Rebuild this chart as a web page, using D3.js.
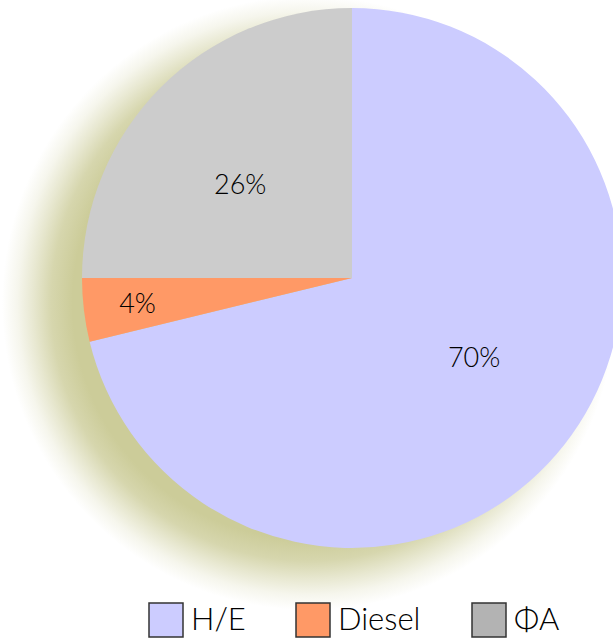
<!DOCTYPE html>
<html>
<head>
<meta charset="utf-8">
<script src="https://cdn.jsdelivr.net/npm/d3@7"></script>
<style>
  body { margin: 0; background: #fff; }
  svg { display: block; }
</style>
</head>
<body>
<svg width="613" height="641"></svg>
<script>
let width = 613,
    height = 641;
let svg = d3.select("svg");

// slice shares as drawn, and their printed labels
const categories = ["H/E", "Diesel", "ΦA"];
const shares = [71.2, 3.8, 25.0];
const labels = ["70%", "4%", "26%"];
const pieColors = ["#ccccff", "#ff9966", "#cccccc"];
const legendColors = ["#ccccff", "#ff9966", "#b3b3b3"];

let cx = 352, cy = 278, radius = 270;
let font = "Lato, 'DejaVu Sans', sans-serif";

// soft olive shadow behind the pie, shifted down-left
let defs = svg.append("defs");
let grad = defs.append("radialGradient").attr("id", "shade");
[[0, 1], [0.77, 1], [0.84, 0.8], [0.9, 0.45], [0.95, 0.18], [1, 0]].forEach(s => {
    grad.append("stop")
        .attr("offset", s[0])
        .attr("stop-color", "#cccc99")
        .attr("stop-opacity", s[1]);
});

svg.append("circle")
    .attr("cx", cx - 43)
    .attr("cy", cy + 25)
    .attr("r", radius + 37)
    .attr("fill", "url(#shade)");

let pie = d3.pie().sort(null).value(d => d);
let arcs = pie(shares);
let arc = d3.arc().innerRadius(0).outerRadius(radius);

let g = svg.append("g").attr("transform", "translate(" + cx + "," + cy + ")");
g.selectAll("path").data(arcs).enter().append("path")
    .attr("d", arc)
    .attr("fill", (d, i) => pieColors[i]);

// labels: small slices pushed outward
g.selectAll("text").data(arcs).enter().append("text")
    .attr("transform", d => {
        let small = (d.endAngle - d.startAngle) < 0.5;
        let k = small ? 0.8 : 0.54;
        let a = (d.startAngle + d.endAngle) / 2 - (small ? 0 : 0.088);
        return "translate(" + (Math.sin(a) * radius * k) + "," + (-Math.cos(a) * radius * k) + ")";
    })
    .attr("text-anchor", "middle")
    .attr("dy", "0.36em")
    .style("font-family", font)
    .style("font-weight", 300)
    .style("font-size", "27px")
    .attr("fill", "#000")
    .text((d, i) => labels[i]);

// legend
let legendX = [149, 296, 472];
let legend = svg.selectAll(".leg").data(categories).enter().append("g")
    .attr("class", "leg")
    .attr("transform", (d, i) => "translate(" + legendX[i] + ",603)");
legend.append("rect")
    .attr("width", 34)
    .attr("height", 34)
    .attr("fill", (d, i) => legendColors[i])
    .attr("stroke", "#333")
    .attr("stroke-width", 1.5);
legend.append("text")
    .attr("x", 42)
    .attr("y", 27)
    .style("font-family", font)
    .style("font-weight", 300)
    .style("font-size", "31px")
    .attr("fill", "#000")
    .text(d => d);
</script>
</body>
</html>
